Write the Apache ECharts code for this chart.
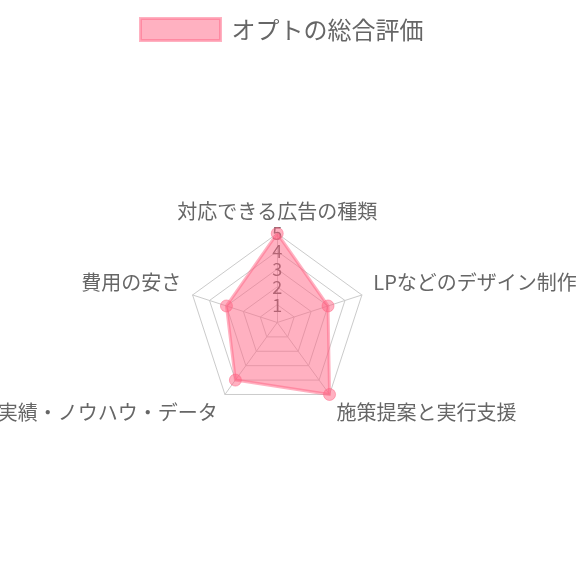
<!DOCTYPE html>
<html>
<head>
<meta charset="utf-8">
<script src="https://cdn.jsdelivr.net/npm/echarts@6/dist/echarts.min.js"></script>
<style>
html,body{margin:0;padding:0;background:#fff;}
#chart{width:580px;height:580px;}
</style>
</head>
<body>
<div id="chart"></div>
<script>
// Indicators in ECharts (counter-clockwise from top) order
const categories = ['対応できる広告の種類', '費用の安さ', '実績・ノウハウ・データ', '施策提案と実行支援', 'LPなどのデザイン制作'];
const seriesName = 'オプトの総合評価';
const seriesValues = [5, 3, 4, 5, 3];
const scaleMax = 5;
const tickStep = 1;

const FONT = '"Noto Sans CJK JP", "Noto Sans", sans-serif';
const PINK = 'rgba(255,99,132,0.5)';
const center = ['47.8%', '55.6%'];
const radius = 89;

const sideSet = new Set([categories[1], categories[4]]);
const bottomSet = new Set([categories[2], categories[3]]);

const chart = echarts.init(document.getElementById('chart'), null, {renderer: 'canvas'});
chart.setOption({
  animation: false,
  backgroundColor: '#fff',
  legend: {
    data: [seriesName],
    left: 139,
    top: 17,
    padding: 0,
    icon: 'rect',
    itemWidth: 80,
    itemHeight: 22,
    itemStyle: {color: PINK, borderColor: PINK, borderWidth: 3},
    textStyle: {color: '#666', fontSize: 24, fontFamily: FONT, padding: [3, 0, 0, 6]}
  },
  radar: {
    center: center,
    radius: radius,
    startAngle: 90,
    splitNumber: scaleMax / tickStep,
    shape: 'polygon',
    nameGap: 12,
    indicator: categories.map(n => ({name: n, min: 0, max: scaleMax})),
    axisName: {
      color: '#666',
      fontSize: 20,
      fontFamily: FONT,
      formatter: function (name) {
        if (sideSet.has(name)) return '{a|' + name + '}\n{s| }';
        if (bottomSet.has(name)) return '{s| }\n{a|' + name + '}';
        return '{a|' + name + '}';
      },
      rich: {
        a: {color: '#666', fontSize: 20, fontFamily: FONT},
        s: {fontSize: 1, lineHeight: 17}
      }
    },
    splitLine: {lineStyle: {color: '#cbcbcb', width: 1}},
    splitArea: {show: false},
    axisLine: {lineStyle: {color: '#cbcbcb', width: 1}},
    axisTick: {show: false},
    axisLabel: {show: false}
  },
  polar: {center: center, radius: radius},
  angleAxis: {show: false, startAngle: 90, min: 0, max: 360},
  radiusAxis: {
    min: 0, max: scaleMax, interval: tickStep,
    axisLine: {show: false},
    axisTick: {show: false},
    splitLine: {show: false},
    axisLabel: {
      show: true, margin: 0, align: 'center', verticalAlign: 'middle',
      showMinLabel: false, color: '#666', fontSize: 18, fontFamily: FONT
    },
    z: 0
  },
  series: [{
    type: 'radar',
    name: seriesName,
    z: 5,
    symbol: 'circle',
    symbolSize: 12,
    lineStyle: {color: PINK, width: 3},
    areaStyle: {color: PINK, opacity: 1},
    itemStyle: {color: PINK, borderColor: PINK, borderWidth: 1},
    data: [{name: seriesName, value: seriesValues}]
  }]
});
</script>
</body>
</html>
